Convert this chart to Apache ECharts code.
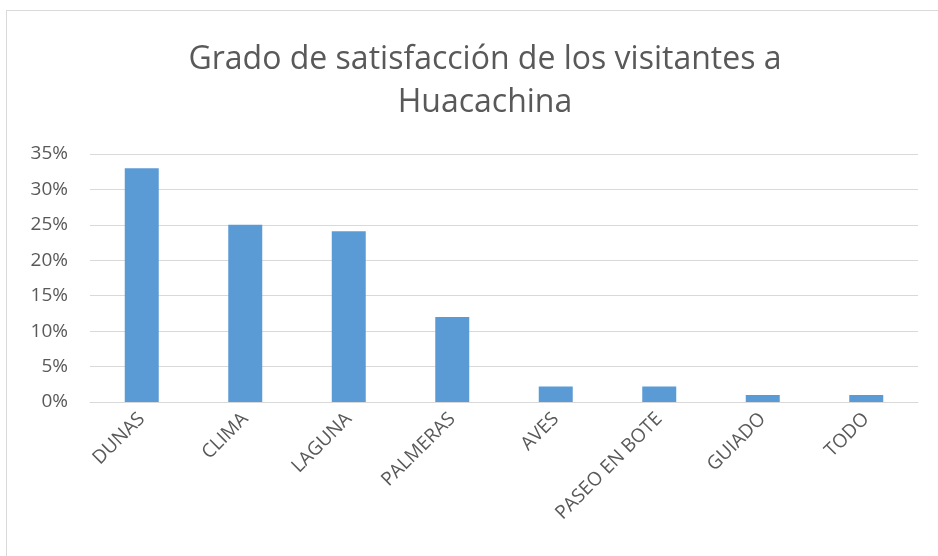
<!DOCTYPE html>
<html>
<head>
<meta charset="utf-8">
<script src="https://cdn.jsdelivr.net/npm/echarts@6/dist/echarts.min.js"></script>
<style>
html, body { margin: 0; padding: 0; background: #fff; }
#frame { position: absolute; left: 6px; top: 10px; width: 940px; height: 560px; border: 1px solid #d9d9d9; box-sizing: border-box; }
#chart { position: absolute; left: 0; top: 0; width: 938px; height: 556px; }
</style>
</head>
<body>
<div id="frame"></div>
<div id="chart"></div>
<script>
const categories = ['DUNAS', 'CLIMA', 'LAGUNA', 'PALMERAS', 'AVES', 'PASEO EN BOTE', 'GUIADO', 'TODO']
const values = [33, 25, 24.1, 12, 2.2, 2.2, 1, 1]
const titleText = 'Grado de satisfacción de los visitantes a\nHuacachina'

const font = '"Open Sans", "Noto Sans", sans-serif'
const chart = echarts.init(document.getElementById('chart'))
chart.setOption({
	animation: false,
	title: {
		text: titleText,
		left: 480,
		textAlign: 'center',
		top: 33,
		textStyle: {
			color: '#595959',
			fontFamily: font,
			fontWeight: 'normal',
			fontSize: 32,
			lineHeight: 43
		}
	},
	grid: {
		left: 90,
		right: 20,
		top: 154,
		bottom: 154
	},
	xAxis: {
		type: 'category',
		data: categories,
		axisTick: { show: false },
		axisLine: { lineStyle: { color: '#d9d9d9', width: 1 } },
		axisLabel: {
			rotate: 45,
			interval: 0,
			margin: 14,
			color: '#595959',
			fontFamily: font,
			fontSize: 19
		}
	},
	yAxis: {
		type: 'value',
		min: 0,
		max: 35,
		interval: 5,
		axisLine: { show: false },
		axisTick: { show: false },
		splitLine: { lineStyle: { color: '#d9d9d9', width: 1 } },
		axisLabel: {
			formatter: '{value}%',
			margin: 22,
			color: '#595959',
			fontFamily: font,
			fontSize: 19
		}
	},
	series: [{
		type: 'bar',
		data: values,
		barWidth: 34,
		itemStyle: { color: '#5b9bd5' }
	}]
})
</script>
</body>
</html>
